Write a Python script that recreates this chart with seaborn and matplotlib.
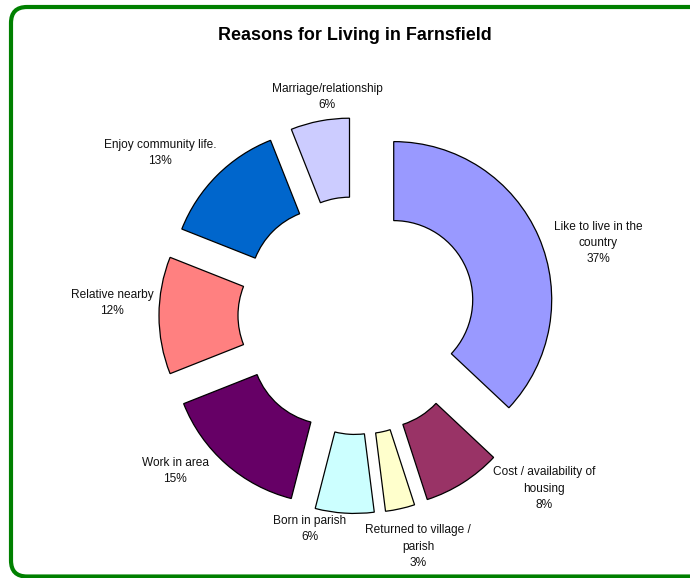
import numpy as np
import pandas as pd
import seaborn as sns
import matplotlib.pyplot as plt
from matplotlib.patches import FancyBboxPatch

sns.set_theme(style="white")
plt.rcParams['font.family'] = ['Liberation Sans', 'DejaVu Sans']

# data, clockwise from 12 o'clock
reasons = ["Like to live in the\ncountry", "Cost / availability of\nhousing",
           "Returned to village /\nparish", "Born in parish", "Work in area",
           "Relative nearby", "Enjoy community life.", "Marriage/relationship"]
percent = [37, 8, 3, 6, 15, 12, 13, 6]
colours = ["#9999FF", "#993366", "#FFFFCC", "#CCFFFF", "#660066",
           "#FF8080", "#0066CC", "#CCCCFF"]

# label centres in pixel coords (x, y from top)
label_xy = [(598, 243), (544, 489), (418, 547), (310, 529),
            (175, 471), (112, 303), (160, 153), (327, 97)]

W, H = 690, 578
fig = plt.figure(figsize=(W / 100, H / 100), dpi=100)
ax = fig.add_axes([0, 0, 1, 1])

# green rounded frame
frame = FancyBboxPatch((11, 1.5), 720, 569.5,
                       boxstyle="round,pad=0,rounding_size=16",
                       fc='white', ec='#008000', lw=3.0, zorder=0)
ax.add_patch(frame)

R = 158
wedges, _ = ax.pie(percent, colors=colours, startangle=90, counterclock=False,
                   radius=R, center=(357, H - 315.5), explode=[40] * len(percent),
                   wedgeprops=dict(width=R * 0.5, edgecolor='black', linewidth=0.9),
                   frame=True)
ax.set_xlim(0, W)
ax.set_ylim(0, H)
ax.set_aspect('equal')
ax.axis('off')

for name, p, (x, y) in zip(reasons, percent, label_xy):
    ax.text(x, H - y, f"{name}\n{p}%", ha='center', va='center',
            multialignment='center', fontsize=8.6, linespacing=1.5, color='#111111')

ax.text(355, H - 36, "Reasons for Living in Farnsfield", ha='center', va='center',
        fontsize=12.9, fontweight='bold', color='black')

fig.savefig("out.png", dpi=100)
